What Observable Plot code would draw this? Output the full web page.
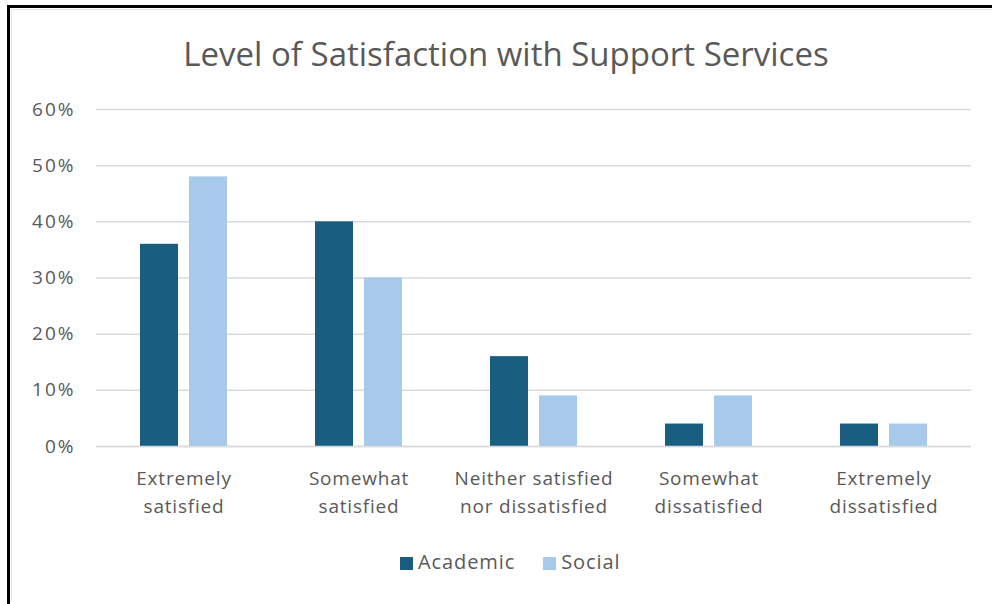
<!DOCTYPE html>
<html>
<head>
<meta charset="utf-8">
<script src="https://cdn.jsdelivr.net/npm/d3@7"></script>
<script src="https://cdn.jsdelivr.net/npm/@observablehq/plot@0.6"></script>
<style>
  html, body { margin: 0; padding: 0; background: #fff; }
  body { width: 992px; height: 604px; position: relative; overflow: hidden; font-family: "Open Sans", sans-serif; }
  #frame { position: absolute; left: 7px; top: 5px; width: 1000px; height: 596px; border-left: 3px solid #000; border-top: 3px solid #000; border-bottom: 1px solid #d0d0d0; box-sizing: content-box; }
  #inner { position: absolute; left: 11px; top: 9px; width: 990px; height: 592px; border-left: 1px solid #e6e6e6; border-top: 1px solid #e6e6e6; }
  #title { position: absolute; left: 0; width: 1012px; top: 31px; text-align: center; font-size: 33px; line-height: 46px; color: #595959; }
  #chart { position: absolute; left: 0; top: 90px; }
  #legend { position: absolute; left: 400px; top: 549px; font-size: 20px; line-height: 26px; color: #595959; white-space: nowrap; letter-spacing: 0.9px; }
  .sw { display: inline-block; width: 13px; height: 13px; margin-right: 5px; vertical-align: -1px; }
  .item { display: inline-block; margin-right: 28px; }
  #chart g[aria-label="y-axis tick label"] text { letter-spacing: 2px; }
  #chart g[aria-label="fx-axis tick label"] text { letter-spacing: 0.8px; }
</style>
</head>
<body>
<div id="frame"></div>
<div id="inner"></div>
<div id="title">Level of Satisfaction with Support Services</div>
<div id="chart"></div>
<div id="legend"></div>
<script>
const categories = ["Extremely satisfied", "Somewhat satisfied", "Neither satisfied nor dissatisfied", "Somewhat dissatisfied", "Extremely dissatisfied"];
const categoryLabels = ["Extremely\nsatisfied", "Somewhat\nsatisfied", "Neither satisfied\nnor dissatisfied", "Somewhat\ndissatisfied", "Extremely\ndissatisfied"];
const series = ["Academic", "Social"];
const academic = [36, 40, 16, 4, 4];
const social = [48, 30, 9, 9, 4];
const yTicks = [0, 10, 20, 30, 40, 50, 60];
const colors = ["#195e80", "#a7caeb"];

const data = [];
categories.forEach((c, i) => {
  data.push({category: c, series: series[0], value: academic[i]});
  data.push({category: c, series: series[1], value: social[i]});
});
const labelOf = new Map(categories.map((c, i) => [c, categoryLabels[i]]));

const chart = Plot.plot({
  width: 992,
  height: 440,
  marginTop: 19,
  marginBottom: 84,
  marginLeft: 95,
  marginRight: 20,
  style: {fontFamily: "'Open Sans', sans-serif", color: "#595959", background: "transparent"},
  fx: {domain: categories, padding: 0, label: null, axis: null},
  x: {domain: series, paddingInner: 0.22, paddingOuter: 0.864, axis: null},
  y: {domain: [0, 60], label: null, axis: null},
  color: {domain: series, range: colors},
  marks: [
    Plot.gridY(yTicks, {stroke: "#d9d9d9", strokeOpacity: 1, strokeWidth: 1.5}),
    Plot.barY(data, {fx: "category", x: "series", y: "value", fill: "series"}),
    Plot.ruleY([0], {stroke: "#d9d9d9", strokeWidth: 1.5}),
    Plot.axisY(yTicks, {tickSize: 0, tickPadding: 21, fontSize: 19, tickFormat: d => d + "%", label: null}),
    Plot.axisFx({anchor: "bottom", tickSize: 0, tickPadding: 19, fontSize: 19, lineHeight: 1.47, tickFormat: d => labelOf.get(d), label: null})
  ]
});
document.getElementById("chart").appendChild(chart);

const legend = document.getElementById("legend");
series.forEach((s, i) => {
  const item = document.createElement("span");
  item.className = "item";
  const sw = document.createElement("span");
  sw.className = "sw";
  sw.style.background = colors[i];
  item.appendChild(sw);
  item.appendChild(document.createTextNode(s));
  legend.appendChild(item);
});
</script>
</body>
</html>
